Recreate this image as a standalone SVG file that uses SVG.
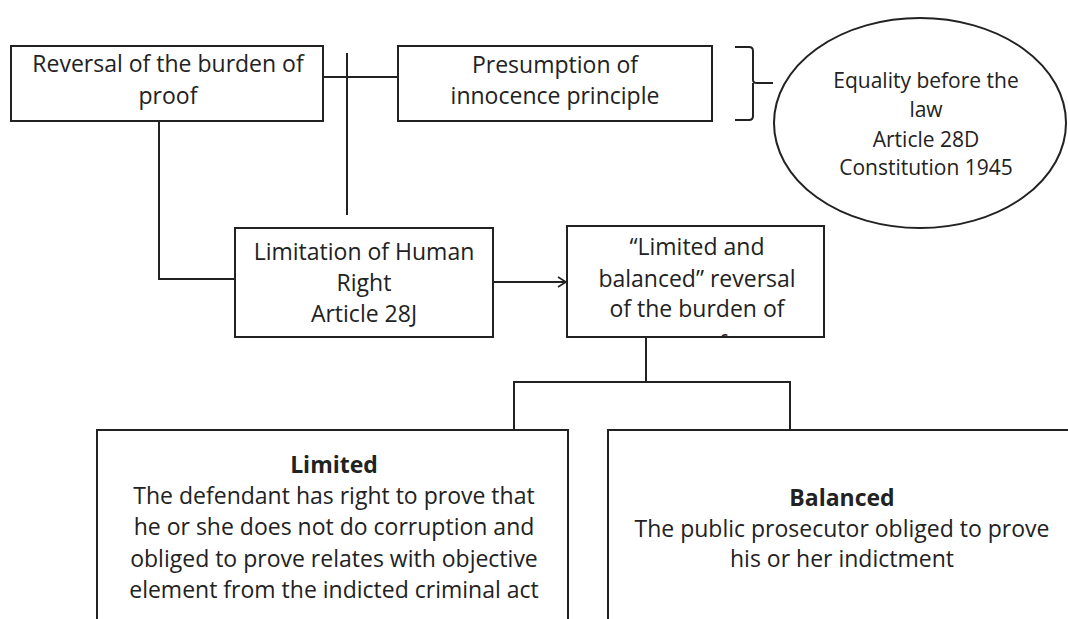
<svg xmlns="http://www.w3.org/2000/svg" width="1068" height="619" viewBox="0 0 1068 619">
<style>
.box{fill:#fff;stroke:#222;stroke-width:2}
.ln{fill:none;stroke:#222;stroke-width:2}
text{font-family:"Open Sans","Liberation Sans",sans-serif;font-size:23px;fill:#222;text-anchor:middle}
.s{font-size:21px}
.b{font-weight:bold}
</style>
<defs>
<marker id="arr" markerWidth="12" markerHeight="12" refX="10" refY="6" orient="auto" markerUnits="userSpaceOnUse">
<path d="M2,1 L10,6 L2,11" fill="none" stroke="#222" stroke-width="1.6"/>
</marker>
<clipPath id="c4"><rect x="567" y="226" width="257" height="111"/></clipPath>
</defs>
<rect width="1068" height="619" fill="#fff"/>
<g id="connectors">
<line class="ln" x1="323" y1="77" x2="398" y2="77"/>
<line class="ln" x1="347" y1="53" x2="347" y2="215"/>
<polyline class="ln" points="159,121 159,279 235,279"/>
<line class="ln" x1="493" y1="282" x2="566" y2="282" marker-end="url(#arr)"/>
<line class="ln" x1="646" y1="337" x2="646" y2="382"/>
<polyline class="ln" points="514,430 514,382 790,382 790,430"/>
<path class="ln" d="M735,47 H749 Q753,47 753,51 V80 Q753,83 757,83 H773 M753,83 Q753,86 753,90 V116 Q753,120 749,120 H735"/>
</g>
<g id="n1">
<rect class="box" x="11" y="46" width="312" height="75"/>
<text x="168" y="72">Reversal of the burden of</text>
<text x="168" y="104">proof</text>
</g>
<g id="n2">
<rect class="box" x="398" y="46" width="314" height="75"/>
<text x="555" y="73">Presumption of</text>
<text x="555" y="104">innocence principle</text>
</g>
<g id="n3">
<ellipse class="box" cx="920" cy="123" rx="146" ry="105"/>
<text class="s" x="926" y="88">Equality before the</text>
<text class="s" x="926" y="117">law</text>
<text class="s" x="926" y="147">Article 28D</text>
<text class="s" x="926" y="175">Constitution 1945</text>
</g>
<g id="n4">
<rect class="box" x="235" y="228" width="258" height="109"/>
<text x="364" y="260">Limitation of Human</text>
<text x="364" y="291">Right</text>
<text x="364" y="322">Article 28J</text>
</g>
<g id="n5">
<rect class="box" x="567" y="226" width="257" height="111"/>
<g clip-path="url(#c4)">
<text x="697" y="255">“Limited and</text>
<text x="697" y="287">balanced” reversal</text>
<text x="697" y="317">of the burden of</text>
<text x="697" y="352">proof</text>
</g>
</g>
<g id="n6">
<rect class="box" x="97" y="430" width="471" height="200"/>
<text class="b" x="334" y="473">Limited</text>
<text x="334" y="504">The defendant has right to prove that</text>
<text x="334" y="535">he or she does not do corruption and</text>
<text x="334" y="567">obliged to prove relates with objective</text>
<text x="334" y="598">element from the indicted criminal act</text>
</g>
<g id="n7">
<rect class="box" x="608" y="430" width="480" height="200"/>
<text class="b" x="842" y="506">Balanced</text>
<text x="842" y="537">The public prosecutor obliged to prove</text>
<text x="842" y="567">his or her indictment</text>
</g>
</svg>
